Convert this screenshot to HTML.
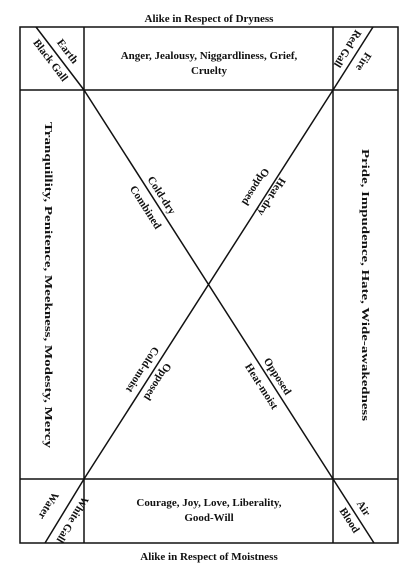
<!DOCTYPE html>
<html><head><meta charset="utf-8"><style>
html,body{margin:0;padding:0;background:#fff;}
svg{display:block;}
text{font-family:"Liberation Serif",serif;font-weight:bold;fill:#111;font-size:11px;}
</style></head><body>
<svg width="416" height="575" viewBox="0 0 416 575">
<g stroke="#111" stroke-width="1.5" fill="none">
<rect x="20" y="27" width="378" height="516"/>
<line x1="84" y1="27" x2="84" y2="543"/>
<line x1="333" y1="27" x2="333" y2="543"/>
<line x1="20" y1="90" x2="398" y2="90"/>
<line x1="20" y1="479" x2="398" y2="479"/>
<line x1="84" y1="90" x2="333" y2="479"/>
<line x1="333" y1="90" x2="84" y2="479"/>
<line x1="36" y1="27" x2="84" y2="90"/>
<line x1="373" y1="27" x2="333" y2="90"/>
<line x1="45" y1="543" x2="84" y2="479"/>
<line x1="374" y1="543" x2="333" y2="479"/>
</g>
<text x="209" y="22" text-anchor="middle" font-size="11.5">Alike in Respect of Dryness</text>
<text x="209" y="560" text-anchor="middle" font-size="11.5">Alike in Respect of Moistness</text>
<text x="209" y="59" text-anchor="middle">Anger, Jealousy, Niggardliness, Grief,</text>
<text x="209" y="74" text-anchor="middle">Cruelty</text>
<text x="209" y="506" text-anchor="middle">Courage, Joy, Love, Liberality,</text>
<text x="209" y="521" text-anchor="middle">Good-Will</text>
<text transform="translate(49,285) rotate(90)" text-anchor="middle" dy="4" textLength="326" lengthAdjust="spacingAndGlyphs">Tranquillity, Penitence, Meekness, Modesty, Mercy</text>
<text transform="translate(366,285) rotate(90)" text-anchor="middle" dy="4" textLength="272" lengthAdjust="spacingAndGlyphs">Pride, Impudence, Hate, Wide-awakedness</text>
<text transform="translate(162,195) rotate(57.4)" text-anchor="middle" dy="4">Cold-dry</text>
<text transform="translate(146,207) rotate(57.4)" text-anchor="middle" dy="4">Combined</text>
<text transform="translate(272,197) rotate(122.6)" text-anchor="middle" dy="4">Heat-dry</text>
<text transform="translate(256,187) rotate(122.6)" text-anchor="middle" dy="4">Opposed</text>
<text transform="translate(158,382) rotate(122.6)" text-anchor="middle" dy="4">Opposed</text>
<text transform="translate(143,370) rotate(122.6)" text-anchor="middle" dy="4">Cold-moist</text>
<text transform="translate(278,376) rotate(57.4)" text-anchor="middle" dy="4">Opposed</text>
<text transform="translate(262,386) rotate(57.4)" text-anchor="middle" dy="4">Heat-moist</text>
<text transform="translate(68,51) rotate(52.7)" text-anchor="middle" dy="4" font-size="10">Earth</text>
<text transform="translate(51,60) rotate(52.7)" text-anchor="middle" dy="4" font-size="10">Black Gall</text>
<text transform="translate(364,62) rotate(122)" text-anchor="middle" dy="4" font-size="10">Fire</text>
<text transform="translate(348,49) rotate(122)" text-anchor="middle" dy="4" font-size="10">Red Gall</text>
<text transform="translate(73,520) rotate(121)" text-anchor="middle" dy="4" font-size="9.5">White Gall</text>
<text transform="translate(49,506) rotate(121)" text-anchor="middle" dy="4" font-size="9.5">Water</text>
<text transform="translate(364,508) rotate(57)" text-anchor="middle" dy="4" font-size="10">Air</text>
<text transform="translate(350,520) rotate(57)" text-anchor="middle" dy="4" font-size="10">Blood</text>
</svg>
</body></html>
